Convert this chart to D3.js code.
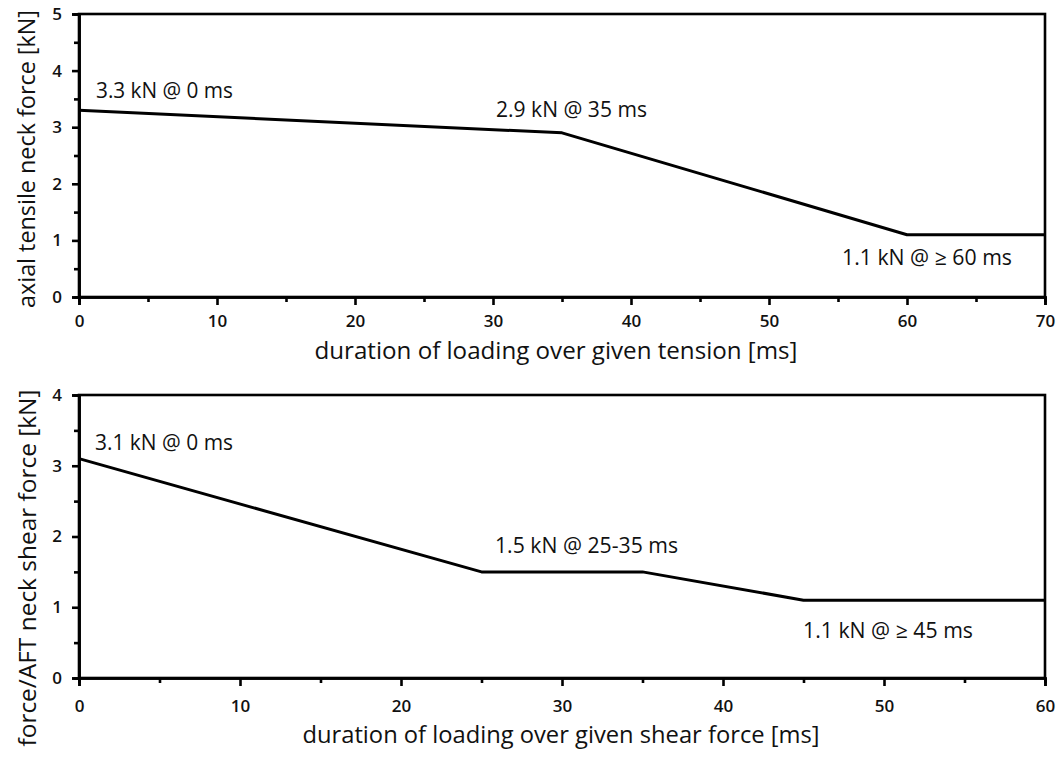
<!DOCTYPE html>
<html><head><meta charset="utf-8">
<script src="https://cdn.jsdelivr.net/npm/d3@7/dist/d3.min.js"></script>
<style>
body{margin:0;background:#fff;}
svg{display:block;}
text{font-family:"Open Sans","Noto Sans",sans-serif;fill:#111;}
</style></head>
<body>
<svg id="c" width="1059" height="759"></svg>
<script>
// Top chart data
const tensionTime = [0, 35, 60, 70];
const tensionForce = [3.3, 2.9, 1.1, 1.1];
const tensionXTicks = [0, 10, 20, 30, 40, 50, 60, 70];
const tensionYTicks = [0, 1, 2, 3, 4, 5];
const tensionLabels = ["3.3 kN @ 0 ms", "2.9 kN @ 35 ms", "1.1 kN @ \u2265 60 ms"];

// Bottom chart data
const shearTime = [0, 25, 35, 45, 60];
const shearForce = [3.1, 1.5, 1.5, 1.1, 1.1];
const shearXTicks = [0, 10, 20, 30, 40, 50, 60];
const shearYTicks = [0, 1, 2, 3, 4];
const shearLabels = ["3.1 kN @ 0 ms", "1.5 kN @ 25-35 ms", "1.1 kN @ \u2265 45 ms"];

const svg = d3.select("#c");

function panel(cfg){
  const g = svg.append("g");
  const x = d3.scaleLinear().domain(cfg.xDomain).range([79, 1045]);
  const y = d3.scaleLinear().domain(cfg.yDomain).range([cfg.y0, cfg.y1]);

  // frame
  g.append("rect").attr("x",79).attr("y",cfg.y1).attr("width",1045-79).attr("height",cfg.y0-cfg.y1)
    .attr("fill","none").attr("stroke","#000").attr("stroke-width",2.6);

  // minor ticks
  const xMinor = d3.range(cfg.xDomain[0]+5, cfg.xDomain[1], 10);
  const yMinor = d3.range(cfg.yDomain[0]+0.5, cfg.yDomain[1], 1);
  const xa = g.append("g").attr("transform",`translate(0,${cfg.y0})`)
    .call(d3.axisBottom(x).tickValues(xMinor).tickSize(5).tickFormat(""));
  const ya = g.append("g").attr("transform",`translate(79,0)`)
    .call(d3.axisLeft(y).tickValues(yMinor).tickSize(5).tickFormat(""));
  // major ticks
  const xb = g.append("g").attr("transform",`translate(0,${cfg.y0})`)
    .call(d3.axisBottom(x).tickValues(cfg.xTicks).tickSize(8).tickPadding(cfg.xPad).tickFormat(d3.format("d")));
  const yb = g.append("g").attr("transform",`translate(79,0)`)
    .call(d3.axisLeft(y).tickValues(cfg.yTicks).tickSize(7).tickPadding(10).tickFormat(d3.format("d")));
  [xa,ya,xb,yb].forEach(a=>{
    a.select(".domain").attr("stroke","#000").attr("stroke-width",2.6);
    a.selectAll(".tick line").attr("stroke","#000").attr("stroke-width",2.6);
    a.selectAll(".tick text").attr("font-size",17).attr("font-weight",600).attr("fill","#111");
  });

  // line
  const pts = cfg.xs.map((d,i)=>[d, cfg.ys[i]]);
  g.append("path").datum(pts)
    .attr("d", d3.line().x(d=>x(d[0])).y(d=>y(d[1])))
    .attr("fill","none").attr("stroke","#000").attr("stroke-width",3).attr("stroke-linejoin","round");

  // annotations
  cfg.labels.forEach((t,i)=>{
    const a = cfg.anchors[i];
    g.append("text").attr("x", x(a[0]) + a[2]).attr("y", y(a[1]) + a[3])
      .attr("font-size",21).attr("textLength",a[4]).attr("lengthAdjust","spacingAndGlyphs").text(t);
  });

  // axis titles
  g.append("text").attr("x",cfg.xTitleX).attr("y",cfg.xTitleY).attr("text-anchor","middle")
    .attr("font-size",23).attr("textLength",cfg.xTitleW).attr("lengthAdjust","spacingAndGlyphs").text(cfg.xTitle);
  g.append("text").attr("transform",`translate(${cfg.yTitleB},${cfg.yTitleC}) rotate(-90)`).attr("text-anchor","middle")
    .attr("font-size",23).attr("textLength",cfg.yTitleW).attr("lengthAdjust","spacingAndGlyphs").text(cfg.yTitle);
}

panel({
  xDomain:[0,70], yDomain:[0,5], y0:297, y1:14, xPad:10,
  xTicks:tensionXTicks, yTicks:tensionYTicks,
  xs:tensionTime, ys:tensionForce, labels:tensionLabels,
  anchors:[[0,3.3,17,-12,137],[35,2.9,-66,-16,151],[60,1.1,-65,30,170]],
  xTitle:"duration of loading over given tension [ms]", xTitleX:556, xTitleY:359, xTitleW:483,
  yTitle:"axial tensile neck force [kN]", yTitleB:35, yTitleC:159, yTitleW:298
});
panel({
  xDomain:[0,60], yDomain:[0,4], y0:678, y1:395, xPad:14,
  xTicks:shearXTicks, yTicks:shearYTicks,
  xs:shearTime, ys:shearForce, labels:shearLabels,
  anchors:[[0,3.1,16,-9,138],[25,1.5,13.5,-19,183],[45,1.1,-0.5,38,170]],
  xTitle:"duration of loading over given shear force [ms]", xTitleX:561, xTitleY:743, xTitleW:517,
  yTitle:"force/AFT neck shear force [kN]", yTitleB:36, yTitleC:568, yTitleW:357
});
</script>
</body></html>
